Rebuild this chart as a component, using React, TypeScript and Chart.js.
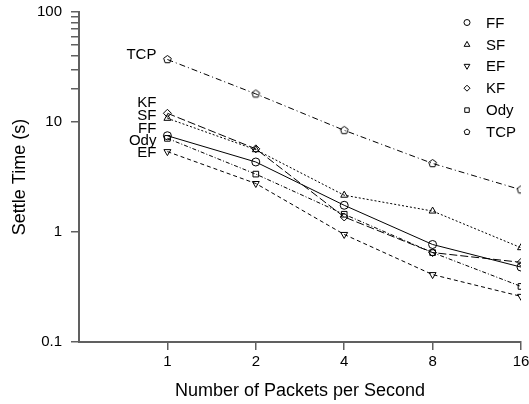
import React, { useEffect, useRef } from 'react';
import { Chart, registerables } from 'chart.js';

Chart.register(...registerables);

// ---- data ----
const packetRates = [1, 2, 4, 8, 16];
const seriesNames = ['FF', 'SF', 'EF', 'KF', 'Ody', 'TCP'];
const ffValues = [7.5, 4.33, 1.75, 0.77, 0.48];
const sfValues = [10.8, 5.6, 2.16, 1.55, 0.72];
const efValues = [5.38, 2.76, 0.95, 0.41, 0.26];
const kfValues = [12.0, 5.7, 1.37, 0.65, 0.53];
const odyValues = [7.1, 3.36, 1.45, 0.65, 0.32];
const tcpValues = [37, 18, 8.4, 4.2, 2.42];
const yMajorTicks = [0.1, 1, 10, 100];
const yMinorTicks = [20, 30, 40, 50, 60, 70, 80, 90];
const xTickValues = [1, 2, 4, 8, 16];

const FONT = '"Liberation Sans", Arial, Helvetica, sans-serif';
const AXIS_COLOR = '#606060';

function makePentagon(r: number): HTMLCanvasElement {
  const size = Math.ceil(r * 2 + 3);
  const c = document.createElement('canvas');
  c.width = size;
  c.height = size;
  const ctx = c.getContext('2d')!;
  drawPentagonPath(ctx, size / 2, size / 2, r);
  ctx.strokeStyle = '#000';
  ctx.lineWidth = 1;
  ctx.stroke();
  return c;
}

function drawPentagonPath(ctx: CanvasRenderingContext2D, x: number, y: number, r: number) {
  ctx.beginPath();
  for (let k = 0; k < 5; k++) {
    const a = -Math.PI / 2 + (k * 2 * Math.PI) / 5;
    const px = x + r * Math.cos(a);
    const py = y + r * Math.sin(a);
    if (k === 0) ctx.moveTo(px, py);
    else ctx.lineTo(px, py);
  }
  ctx.closePath();
}

function drawLegendMarker(ctx: CanvasRenderingContext2D, kind: string, x: number, y: number, r: number) {
  ctx.save();
  ctx.strokeStyle = '#000';
  ctx.lineWidth = 1;
  ctx.beginPath();
  if (kind === 'circle') {
    ctx.arc(x, y, r, 0, Math.PI * 2);
  } else if (kind === 'triangle') {
    ctx.moveTo(x, y - r);
    ctx.lineTo(x + r * 0.95, y + r * 0.65);
    ctx.lineTo(x - r * 0.95, y + r * 0.65);
    ctx.closePath();
  } else if (kind === 'triangleDown') {
    ctx.moveTo(x, y + r);
    ctx.lineTo(x + r * 0.95, y - r * 0.65);
    ctx.lineTo(x - r * 0.95, y - r * 0.65);
    ctx.closePath();
  } else if (kind === 'diamond') {
    ctx.moveTo(x, y - r);
    ctx.lineTo(x + r, y);
    ctx.lineTo(x, y + r);
    ctx.lineTo(x - r, y);
    ctx.closePath();
  } else if (kind === 'square') {
    ctx.rect(x - r * 0.75, y - r * 0.75, r * 1.5, r * 1.5);
  } else if (kind === 'pentagon') {
    drawPentagonPath(ctx, x, y, r);
  }
  ctx.stroke();
  ctx.restore();
}

const markerKinds = ['circle', 'triangle', 'triangleDown', 'diamond', 'square', 'pentagon'];
// label offsets (px) relative to the first point of each series
const labelOffsets = [-7, -2, 1, -10, 2, -5];

const annotationPlugin = {
  id: 'seriesAnnotations',
  afterDatasetsDraw(chart: any) {
    const ctx: CanvasRenderingContext2D = chart.ctx;
    ctx.save();
    ctx.font = `15px ${FONT}`;
    ctx.fillStyle = '#000';
    ctx.textAlign = 'right';
    ctx.textBaseline = 'middle';
    chart.data.datasets.forEach((ds: any, i: number) => {
      const meta = chart.getDatasetMeta(i);
      const pt = meta.data[0];
      if (!pt) return;
      ctx.fillText(ds.label, pt.x - 11, pt.y + labelOffsets[i]);
    });
    // legend
    const area = chart.chartArea;
    ctx.textAlign = 'left';
    chart.data.datasets.forEach((ds: any, i: number) => {
      const y = area.top + 10.5 + i * 21.9;
      drawLegendMarker(ctx, markerKinds[i], area.right - 54, y, 3);
      ctx.fillText(ds.label, area.right - 35, y + 1);
    });
    ctx.restore();
  },
};

export default function App() {
  const canvasRef = useRef<HTMLCanvasElement>(null);

  useEffect(() => {
    if (!canvasRef.current) return;
    const pentagon = makePentagon(4);
    const allValues = [ffValues, sfValues, efValues, kfValues, odyValues, tcpValues];
    const dashes = [[], [2, 2], [4, 3], [8, 3], [4, 2, 1, 2], [6, 3, 1, 3]];
    const pointStyles: any[] = ['circle', 'triangle', 'triangle', 'rectRot', 'rect', pentagon];
    const rotations = [0, 0, 180, 0, 0, 0];
    const radii = [4, 4, 4, 4, 4, 4];

    const datasets = seriesNames.map((name, i) => ({
      label: name,
      data: packetRates.map((x, j) => ({ x, y: allValues[i][j] })),
      borderColor: '#000',
      borderWidth: 1,
      borderDash: dashes[i],
      pointStyle: pointStyles[i],
      pointRotation: rotations[i],
      pointRadius: radii[i],
      pointBorderColor: '#000',
      pointBackgroundColor: 'rgba(0,0,0,0)',
      pointBorderWidth: 1,
      fill: false,
      tension: 0,
    }));

    const chart = new Chart(canvasRef.current, {
      type: 'line',
      data: { datasets },
      plugins: [annotationPlugin],
      options: {
        animation: false,
        responsive: false,
        devicePixelRatio: 1,
        layout: { padding: { top: 12, right: 8, left: 0, bottom: 0 } },
        plugins: {
          legend: { display: false },
          tooltip: { enabled: false },
        },
        scales: {
          x: {
            type: 'logarithmic',
            min: 0.5,
            max: 16,
            afterBuildTicks: (scale: any) => {
              scale.ticks = xTickValues.map((v) => ({ value: v }));
            },
            afterFit: (scale: any) => {
              scale.height = 62;
              scale.paddingLeft = 0;
              scale.paddingRight = 0;
            },
            ticks: {
              callback: (v: any) => String(v),
              color: '#000',
              font: { family: FONT, size: 15 },
              padding: 3,
              autoSkip: false,
              maxRotation: 0,
            },
            grid: {
              display: true,
              drawOnChartArea: false,
              drawTicks: true,
              tickLength: 8,
              color: AXIS_COLOR,
              lineWidth: 1.5,
            },
            border: { display: true, color: AXIS_COLOR, width: 2 },
            title: {
              display: true,
              text: 'Number of Packets per Second',
              color: '#000',
              font: { family: FONT, size: 18 },
              padding: { top: 0, bottom: 2.5 },
            },
          },
          y: {
            type: 'logarithmic',
            min: 0.1,
            max: 100,
            afterBuildTicks: (scale: any) => {
              const all = [...yMajorTicks, ...yMinorTicks].sort((a, b) => a - b);
              scale.ticks = all.map((v) => ({ value: v }));
            },
            afterFit: (scale: any) => {
              scale.width = 79;
              scale.paddingTop = 0;
              scale.paddingBottom = 0;
            },
            ticks: {
              callback: (v: any) => (yMajorTicks.includes(Number(v)) ? String(v) : ' '),
              color: '#000',
              font: { family: FONT, size: 15 },
              padding: 9,
              autoSkip: false,
            },
            grid: {
              display: true,
              drawOnChartArea: false,
              drawTicks: true,
              tickLength: 8,
              color: AXIS_COLOR,
              lineWidth: 1.5,
            },
            border: { display: true, color: AXIS_COLOR, width: 2 },
            title: {
              display: true,
              text: 'Settle Time (s)',
              color: '#000',
              font: { family: FONT, size: 18 },
              padding: { top: 9, bottom: 0 },
            },
          },
        },
      } as any,
    });
    return () => chart.destroy();
  }, []);

  return (
    <div style={{ position: 'absolute', left: 0, top: 0, width: 529, height: 404, background: '#fff' }}>
      <canvas ref={canvasRef} width={529} height={404} style={{ display: 'block' }} />
    </div>
  );
}
